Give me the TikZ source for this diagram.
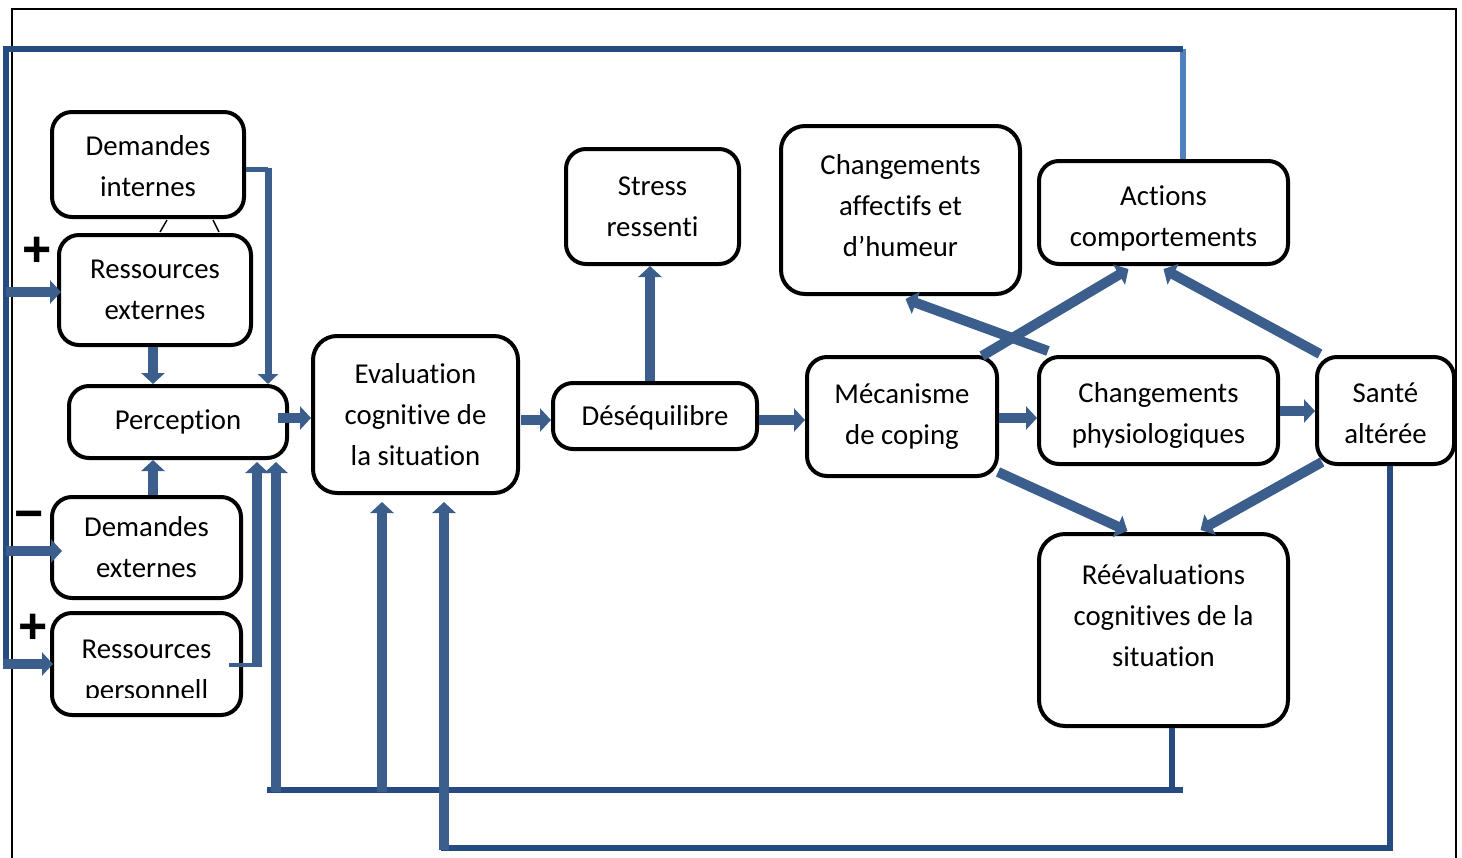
\documentclass[tikz,border=0pt]{standalone}
\usepackage{fontspec}
\setmainfont[Ligatures=NoCommon]{Carlito}
\newfontfamily\signfont{Liberation Sans}
\usetikzlibrary{arrows.meta,calc}
\definecolor{flow}{RGB}{59,94,140}
\definecolor{loopline}{RGB}{38,75,128}
\definecolor{lightloop}{RGB}{79,129,189}
\begin{document}
\begin{tikzpicture}[x=0.5pt,y=-0.5pt,
  box/.style={draw=black, line width=2pt, rounded corners=10pt, align=center,
    inner sep=0pt, font=\fontsize{14.4}{20.5}\selectfont},
  txt/.style={align=center, inner sep=0pt, font=\fontsize{14.4}{20.5}\selectfont},
  fat/.style={draw=flow, line width=5pt, -{Triangle[length=5.5pt,width=11.5pt]}},
  slim/.style={draw=flow, line width=3.5pt, -{Triangle[length=5pt,width=10pt]}},
  feed/.style={draw=loopline, line width=2.8pt},
  sign/.style={inner sep=0pt, font=\signfont\bfseries\fontsize{25}{25}\selectfont}
]
\useasboundingbox (0,0) rectangle (1462,857);

% outer frame
\draw[black, line width=0.8pt] (12,880) -- (12,9) -- (1456,9) -- (1456,880);

% boxes
\node[box, minimum width=96pt,    minimum height=52.5pt] (dint)    at (148,164.5)   {};
\node[txt] (dinttxt) at (148,166.5) {Demandes\\internes};
\node[box, minimum width=96pt,    minimum height=55pt]   (rext)    at (155,290)     {Ressources\\externes};
\node[box, minimum width=109pt,   minimum height=36pt]   (perc)    at (178,422)     {Perception};
\node[box, minimum width=94.5pt,  minimum height=50.5pt] (dext)    at (146.5,547.5) {Demandes\\externes};
\node[box, minimum width=94.5pt,  minimum height=51pt]   (rpers)   at (146.5,664)   {};
\begin{scope}
  \clip (50,600) rectangle (243,697);
  \node[txt] (rperstxt) at (146.5,672) {Ressources\\personnell};
\end{scope}
\node[box, minimum width=102.5pt, minimum height=78.5pt, rounded corners=12pt] (eval) at (415.5,414.5) {Evaluation\\cognitive de\\la situation};
\node[box, minimum width=86.5pt,  minimum height=57.5pt] (stress)  at (652.5,206.5) {Stress\\ressenti};
\node[box, minimum width=102pt,   minimum height=33pt]   (deseq)   at (655,416)     {};
\node[txt] (deseqtxt) at (655,418) {Déséquilibre};
\node[box, minimum width=119.5pt, minimum height=84pt, rounded corners=12pt] (chaff) at (900.5,210) {};
\node[txt] (chafftxt) at (900.5,206) {Changements\\affectifs et\\d’humeur};
\node[box, minimum width=124.5pt, minimum height=51.5pt] (actions) at (1163.5,212.5) {};
\node[txt] (actionstxt) at (1163.5,218.5) {Actions\\comportements};
\node[box, minimum width=95pt,    minimum height=59.5pt] (meca)    at (902,416.5)   {Mécanisme\\de coping};
\node[box, minimum width=119.5pt, minimum height=53.5pt] (chphys)  at (1158.5,410.5) {};
\node[txt] (chphystxt) at (1158.5,415.5) {Changements\\physiologiques};
\node[box, minimum width=68.5pt,  minimum height=53.5pt] (sante)   at (1385.5,410.5) {};
\node[txt] (santetxt) at (1385.5,413.5) {Santé\\altérée};
\node[box, minimum width=124.5pt, minimum height=96pt, rounded corners=13pt] (reeval) at (1163.5,630) {};
\node[txt] (reevaltxt) at (1163.5,616) {Réévaluations\\cognitives de la\\situation};

% small marks between the two upper boxes
\draw[black, line width=0.7pt] (167,220) -- (160,232);
\draw[black, line width=0.7pt] (213,220) -- (219,232);

% signs on the left
\node[sign] (plusA)  at (37,252) {+};
\node[sign] (minusB) at (29,521) {−};
\node[sign] (plusC)  at (33,629) {+};

% outer feedback loop from the actions
\coordinate (loopL) at (6,49);
\coordinate (loopR) at (1183,49);
\draw[lightloop, line width=2.8pt] ($(actions.north)+(19.5,0)$) -- (loopR);
\draw[feed] (loopR) -- (loopL) -- (6,668);
\draw[fat] (loopL |- 0,292) -- (61,292);
\draw[fat] (loopL |- 0,551) -- (62,551);
\draw[fat] (3,664) -- (53,664);

% inputs of the perception
\draw[flow, line width=2.5pt] (dint.east |- 0,169) -- (268,169);
\draw[slim] (268,167.8) -- (268,0 |- perc.north);
\draw[fat] ($(rext.south)+(-2,0)$) coordinate (re) -- (re |- perc.north);
\draw[fat] ($(dext.north)+(6.5,0)$) coordinate (de) -- (de |- perc.south);
\draw[flow, line width=2pt] (229,665) -- (258,665);
\draw[fat] (257,667) -- (257,462);

% main chain
\draw[fat] (278,418) -- (eval.west |- 0,418);
\draw[fat] (521,420) -- (deseq.west |- 0,420);
\draw[fat] (650,381) -- (650,0 |- stress.south);
\draw[fat] (deseq.east |- 0,420) -- (meca.west |- 0,420);
\draw[fat] (meca.east |- 0,418) -- (chphys.west |- 0,418);
\draw[fat] (chphys.east |- 0,411) -- (sante.west |- 0,411);

% diagonal links
\draw[fat] ($(meca.north east)+(-17,1)$) -- ($(actions.south)+(-35,3)$);
\draw[fat] ($(chphys.north west)+(11,-4)$) -- ($(chaff.south)+(5,3)$);
\draw[fat] ($(sante.north west)+(5,-1)$) -- ($(actions.south)+(0,3)$);
\draw[fat] ($(meca.south east)+(-1,-6)$) -- ($(reeval.north)+(-36,-1)$);
\draw[fat] ($(sante.south west)+(7,-4)$) -- ($(reeval.north)+(37,-2)$);

% lower feedback lines
\coordinate (botL) at (267,790);
\coordinate (botR) at (1183,790);
\draw[feed] ($(reeval.south)+(8.5,0)$) -- (1172,790);
\draw[feed] (botL) -- (botR);
\draw[fat] (276,792) -- (276,462);
\draw[fat] (382,792) -- (382,502);
\coordinate (lowL) at (441,848);
\draw[feed] ($(sante.south)+(4.5,0)$) |- (lowL);
\draw[fat] (444,850) -- (444,502);

\end{tikzpicture}
\end{document}
